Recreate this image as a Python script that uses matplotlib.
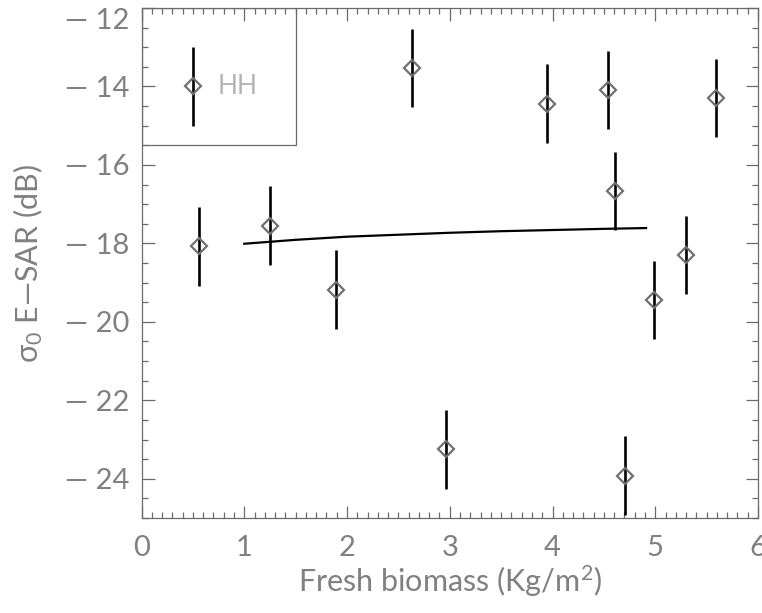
import matplotlib
matplotlib.use("Agg")
import matplotlib.pyplot as plt
from matplotlib.patches import Rectangle
from matplotlib.ticker import MultipleLocator

# measured points (fresh biomass, backscatter in dB)
biomass = [0.56, 1.25, 1.89, 2.63, 2.96, 3.95, 4.54, 4.61, 4.71, 4.99, 5.30, 5.59]
sigma0 = [-18.08, -17.55, -19.18, -13.53, -23.25, -14.44, -14.09, -16.67,
          -23.92, -19.44, -18.30, -14.29]
sigma_err = [1.0] * len(biomass)

# fitted curve
fit_x = [1.0, 1.5, 2.0, 2.5, 3.0, 3.5, 4.0, 4.5, 4.91]
fit_y = [-18.01, -17.91, -17.83, -17.78, -17.73, -17.69, -17.66, -17.63, -17.61]

# legend entry
legend_x = [0.5]
legend_y = [-14.0]
legend_label = "HH"

axis_col = "#6a6a6a"
text_col = "#808080"

plt.rcParams['font.family'] = ['Lato', 'DejaVu Sans']
plt.rcParams['mathtext.fontset'] = 'custom'
plt.rcParams['mathtext.rm'] = 'Lato'
plt.rcParams['mathtext.it'] = 'Lato'

fig = plt.figure(figsize=(7.62, 6.13), dpi=100)
ax = fig.add_axes([0.1857, 0.155, 0.8091, 0.832])

ax.errorbar(biomass, sigma0, yerr=sigma_err, fmt='none', ecolor='black',
            elinewidth=1.9, capsize=0, zorder=2)
ax.plot(biomass, sigma0, linestyle='none', marker='D', markersize=8.2,
        markerfacecolor='none', markeredgecolor='#707070',
        markeredgewidth=1.6, zorder=3)
ax.plot(fit_x, fit_y, color='black', lw=1.6, zorder=2)

# legend box drawn inside the axes like the original
ax.add_patch(Rectangle((0, -15.5), 1.5, 3.5, fill=False, edgecolor=axis_col,
                       lw=0.9, zorder=1))
ax.errorbar(legend_x, legend_y, yerr=[1.0], fmt='none', ecolor='black',
            elinewidth=1.9, capsize=0, zorder=2)
ax.plot(legend_x, legend_y, linestyle='none', marker='D', markersize=8.2,
        markerfacecolor='none', markeredgecolor='#707070',
        markeredgewidth=1.6, zorder=3)
ax.text(0.74, -14.0, legend_label, color='#b4b4b4', fontsize=19,
        va='center', ha='left')

ax.set_xlim(0, 6)
ax.set_ylim(-25, -12)
ax.xaxis.set_major_locator(MultipleLocator(1))
ax.xaxis.set_minor_locator(MultipleLocator(0.1))
ax.yaxis.set_major_locator(MultipleLocator(2))
ax.yaxis.set_minor_locator(MultipleLocator(0.5))
ax.yaxis.set_major_formatter(lambda v, pos: f"\u2014 {abs(v):.0f}" if v < 0 else f"{v:.0f}")

ax.tick_params(which='both', direction='in', top=True, right=True,
               color=axis_col, width=0.9, labelcolor=text_col, labelsize=21)
ax.tick_params(which='major', length=9)
ax.tick_params(which='minor', length=4.5)
ax.tick_params(axis='x', pad=12)
ax.tick_params(axis='y', pad=9)
for sp in ax.spines.values():
    sp.set_color(axis_col)
    sp.set_linewidth(0.9)

ax.set_xlabel("Fresh biomass (Kg/m$^2$)", color=text_col, fontsize=22,
              labelpad=2)
ax.set_ylabel("σ$_0$ E\u2014SAR (dB)", color=text_col, fontsize=22, labelpad=14)

# top label sits just under the axis top, as in the original
fig.canvas.draw()
for lab in ax.get_yticklabels():
    if lab.get_text().endswith("12"):
        lab.set_va('top')

fig.savefig("out.png", dpi=100)
